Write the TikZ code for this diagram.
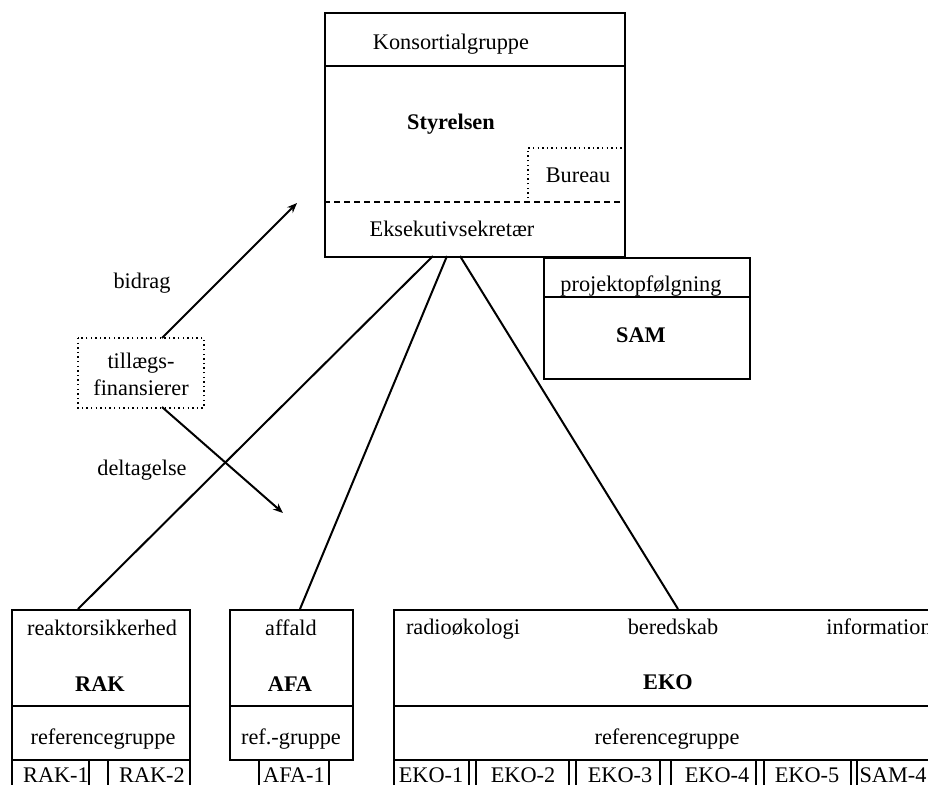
\documentclass[tikz,border=0pt]{standalone}
\usepackage{fontspec}
\setmainfont{Liberation Serif}
\usetikzlibrary{arrows.meta}
\tikzset{
  box/.style={draw, line width=1pt, inner sep=0pt, anchor=north west},
  ghost/.style={inner sep=0pt, anchor=north west},
  lbl/.style={anchor=base, inner sep=0pt},
  bl/.style={anchor=base, inner sep=0pt, font=\fontsize{11.15pt}{13.4pt}\selectfont\bfseries},
  sepline/.style={line width=1pt},
  conn/.style={line width=1pt},
  arr/.style={line width=1pt, -{Stealth[length=5pt,width=4pt]}},
  dashsep/.style={line width=0.8pt, dash pattern=on 3pt off 2pt},
  dotbox/.style={line width=0.7pt, dash pattern=on 0.7pt off 1.6pt}
}
\begin{document}
\begin{tikzpicture}[x=0.5pt, y=-0.5pt, font=\fontsize{11.15pt}{13.4pt}\selectfont]
\useasboundingbox (0,0) rectangle (928,784);
\clip (0,0) rectangle (928,784);

% top box
\node[box, minimum width=150pt, minimum height=122pt] (top) at (324,12) {};
\draw[sepline] (top.west |- 0,66) -- (top.east |- 0,66);
\draw[dashsep] (top.west |- 0,202) -- (top.east |- 0,202);
\node[ghost, minimum width=48pt, minimum height=27pt] (bur) at (528,148) {};
\draw[dotbox] (bur.south west) -- (bur.north west) -- (bur.north east);
\node[lbl] (konst) at (451,49) {Konsortialgruppe};
\node[bl] (styr) at (451,129) {Styrelsen};
\node[lbl] (bureau) at (578,182) {Bureau};
\node[lbl] (eks) at (452,236) {Eksekutivsekretær};

% SAM box
\node[box, minimum width=103pt, minimum height=60.5pt] (sam) at (543,257) {};
\draw[sepline] (sam.west |- 0,297) -- (sam.east |- 0,297);
\node[lbl] (proj) at (641,291) {projektopfølgning};
\node[bl] (samt) at (641,342) {SAM};

% tillaegs box
\node[ghost, minimum width=62.5pt, minimum height=34.5pt] (till) at (78,338) {};
\draw[dotbox] (till.north west) rectangle (till.south east);
\node[lbl] (till1) at (141,368) {tillægs-};
\node[lbl] (till2) at (141,395) {finansierer};
\node[lbl] (bidrag) at (142,288) {bidrag};
\node[lbl] (delt) at (142,475) {deltagelse};
\coordinate (tillTop) at (162,338);
\coordinate (tillBot) at (162,407);
\coordinate (bidEnd) at (297,203);
\coordinate (delEnd) at (283,513);
\draw[arr] (tillTop) -- (bidEnd);
\draw[arr] (tillBot) -- (delEnd);

% RAK box
\node[box, minimum width=89pt, minimum height=75pt] (rak) at (11,609) {};
\draw[sepline] (rak.west |- 0,706) -- (rak.east |- 0,706);
\node[lbl] (rakA) at (102,635) {reaktorsikkerhed};
\node[bl] (rakB) at (100,691) {RAK};
\node[lbl] (rakC) at (103,744) {referencegruppe};
\node[box, minimum width=38.5pt, minimum height=25pt] (rak1) at (11,759) {};
\node[box, minimum width=41pt, minimum height=25pt] (rak2) at (107,759) {};
\node[lbl] at (56,782) {RAK-1};
\node[lbl] at (152,782) {RAK-2};

% AFA box
\node[box, minimum width=61.5pt, minimum height=75pt] (afa) at (229,609) {};
\draw[sepline] (afa.west |- 0,706) -- (afa.east |- 0,706);
\node[lbl] (afaA) at (291,635) {affald};
\node[bl] (afaB) at (290,691) {AFA};
\node[lbl] (afaC) at (291,744) {ref.-gruppe};
\node[box, minimum width=35pt, minimum height=25pt] (afa1) at (258,759) {};
\node[lbl] at (294,782) {AFA-1};

% EKO box
\node[box, minimum width=274pt, minimum height=75pt] (eko) at (393,609) {};
\draw[sepline] (eko.west |- 0,706) -- (eko.east |- 0,706);
\node[lbl] (ekoA) at (463,634) {radioøkologi};
\node[lbl] (ekoB) at (673,634) {beredskab};
\node[lbl] (ekoC) at (879,634) {information};
\node[bl] (ekoD) at (668,689) {EKO};
\node[lbl] (ekoE) at (667,744) {referencegruppe};
\node[box, minimum width=37.5pt, minimum height=25pt] (eko1) at (393,759) {};
\node[box, minimum width=46.5pt, minimum height=25pt] (eko2) at (475,759) {};
\node[box, minimum width=42pt, minimum height=25pt] (eko3) at (575,759) {};
\node[box, minimum width=42.5pt, minimum height=25pt] (eko4) at (670,759) {};
\node[box, minimum width=43.5pt, minimum height=25pt] (eko5) at (763,759) {};
\node[box, minimum width=42pt, minimum height=25pt] (sam4) at (856,759) {};
\node[lbl] at (431,782) {EKO-1};
\node[lbl] at (523,782) {EKO-2};
\node[lbl] at (620,782) {EKO-3};
\node[lbl] at (717,782) {EKO-4};
\node[lbl] at (807,782) {EKO-5};
\node[lbl] at (893,782) {SAM-4};

% connectors from top box
\coordinate (tR) at (433,256);
\coordinate (tA) at (447,256);
\coordinate (tE) at (460,256);
\coordinate (rR) at (78,609);
\coordinate (rA) at (300,609);
\coordinate (rE) at (678,609);
\draw[conn] (tR) -- (rR);
\draw[conn] (tA) -- (rA);
\draw[conn] (tE) -- (rE);
\end{tikzpicture}
\end{document}
